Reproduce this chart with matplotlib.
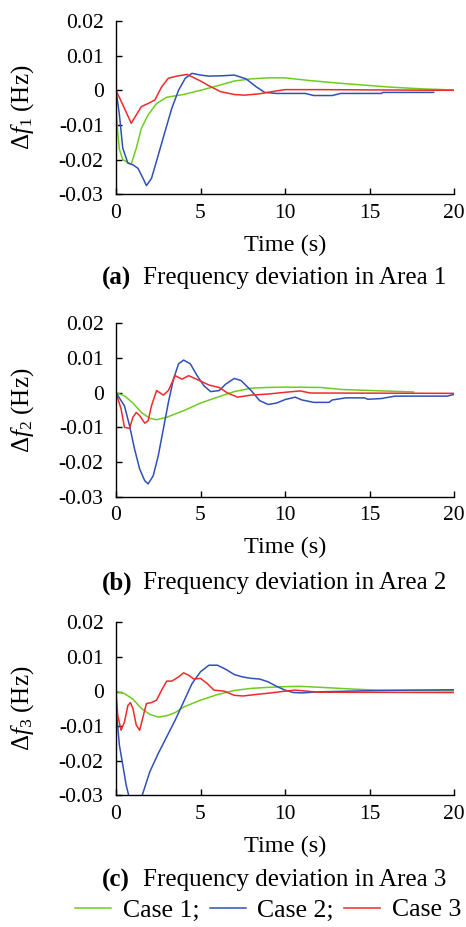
import matplotlib
matplotlib.use('Agg')
import matplotlib.pyplot as plt
from matplotlib.lines import Line2D

# ---- data (time in s, deviation in Hz) ----
# Area 1
t_a_case1 = [0, 0.1, 0.2, 0.4, 0.9, 1.2, 1.5, 1.9, 2.4, 3.0, 4.0, 5.0, 6.0, 7.0, 8.0, 9.0, 10.0,
             11.5, 13.1, 14.7, 16.3, 18.2, 20.0]
v_a_case1 = [-0.005, -0.012, -0.017, -0.020, -0.0213, -0.0167, -0.011, -0.0071, -0.0038, -0.002,
             -0.0012, 0.0, 0.0013, 0.0027, 0.0033, 0.0036, 0.0036,
             0.0028, 0.0021, 0.0015, 0.0009, 0.0004, 0.0001]
t_a_case2 = [0, 0.2, 0.4, 0.7, 1.0, 1.3, 1.6, 1.8, 2.1, 2.5, 2.9, 3.3, 3.7, 4.1, 4.5, 5.0, 5.5,
             6.3, 7.0, 7.7, 8.3, 8.8, 9.5, 10.0, 11.2, 11.7, 12.8, 13.3, 15.7, 15.8, 18.8]
v_a_case2 = [0.0, -0.007, -0.0167, -0.021, -0.0215, -0.0225, -0.0254, -0.0275, -0.0254, -0.0187,
             -0.0119, -0.0052, 0.0, 0.0035, 0.0049, 0.0044, 0.0041,
             0.0042, 0.0044, 0.0033, 0.001, -0.0006, -0.0009, -0.0009, -0.0009, -0.0015, -0.0015,
             -0.0009, -0.0009, -0.0006, -0.0006]
t_a_case3 = [0, 0.5, 0.9, 1.2, 1.5, 1.9, 2.3, 2.7, 3.1, 3.6, 4.2, 5.0, 5.5, 6.2, 7.0, 7.6, 8.5,
             9.2, 10.0, 12.0, 20.0]
v_a_case3 = [0.0, -0.0052, -0.0095, -0.0071, -0.0047, -0.0038, -0.0028, 0.001, 0.0035, 0.0041,
             0.0046, 0.0027, 0.0013, -0.0004, -0.0012, -0.0014, -0.001,
             -0.0004, 0.0002, 0.0002, 0.0]

# Area 2
t_b_case1 = [0, 0.5, 1.0, 1.5, 2.0, 2.4, 3.0, 4.0, 5.0, 6.0, 7.0, 8.0, 9.0, 10.0, 12.1, 13.4,
             15.8, 17.6]
v_b_case1 = [0.0, -0.0009, -0.003, -0.0057, -0.0074, -0.0078, -0.0071, -0.0052, -0.003, -0.0013,
             0.0003, 0.0013, 0.0015, 0.0016, 0.0015, 0.0009, 0.0005, 0.0002]
t_b_case2 = [0, 0.5, 0.8, 1.1, 1.4, 1.7, 1.9, 2.2, 2.5, 2.8, 3.1, 3.4, 3.7, 4.0, 4.4, 4.8, 5.2,
             5.6, 6.1, 6.5, 7.0, 7.4, 8.0, 8.5, 9.0, 9.5, 10.0, 10.6, 11.0, 11.7, 12.6, 12.8,
             13.6, 14.7, 14.9, 15.7, 16.5, 19.6, 20.0]
v_b_case2 = [0.0, -0.0038, -0.0095, -0.0163, -0.022, -0.0254, -0.0263, -0.024, -0.0182, -0.0105,
             -0.0028, 0.0039, 0.0083, 0.0094, 0.0083, 0.0049, 0.002,
             0.0003, 0.0006, 0.0025, 0.0041, 0.0035, 0.0006, -0.0023, -0.0034, -0.003, -0.002,
             -0.0013, -0.0021, -0.0028, -0.0028, -0.0021, -0.0015, -0.0015, -0.0019, -0.0017,
             -0.001, -0.001, -0.0005]
t_b_case3 = [0, 0.3, 0.5, 0.8, 1.0, 1.2, 1.4, 1.7, 1.9, 2.1, 2.4, 2.8, 3.1, 3.5, 3.9, 4.3, 4.8,
             5.5, 6.1, 6.6, 7.2, 8.0, 9.0, 10.0, 10.9, 11.5, 20.0]
v_b_case3 = [0.0, -0.0047, -0.01, -0.0103, -0.0071, -0.0057, -0.0066, -0.0088, -0.0081, -0.0038,
             0.0006, -0.0007, 0.0006, 0.0049, 0.0039, 0.0049, 0.0038,
             0.0022, 0.0015, -0.0001, -0.0013, -0.0007, -0.0004, 0.0001, 0.0005, -0.0001, -0.0002]

# Area 3
t_c_case1 = [0, 0.5, 1.0, 1.5, 2.0, 2.5, 3.0, 3.5, 4.0, 5.0, 6.0, 7.0, 8.0, 9.0, 10.0, 10.9,
             12.5, 14.0, 15.5, 17.5, 20.0]
v_c_case1 = [0.0, -0.0006, -0.0022, -0.0049, -0.0066, -0.0074, -0.007, -0.0061, -0.0045, -0.0025,
             -0.0009, 0.0003, 0.0009, 0.0012, 0.0014, 0.0015, 0.0011, 0.0007, 0.0004, 0.0003,
             0.0002]
t_c_case2 = [0, 0.1, 0.2, 0.4, 0.6, 0.75, 1.1, 1.55, 2.0, 2.5, 3.0, 3.5, 4.0, 4.5, 5.0, 5.5, 6.0,
             6.5, 7.0, 7.5, 8.0, 8.5, 9.0, 9.5, 10.0, 10.5, 11.0, 12.0, 14.7, 17.5, 20.0]
v_c_case2 = [-0.005, -0.01, -0.0155, -0.0212, -0.027, -0.030, -0.034, -0.030, -0.0232, -0.0179,
             -0.0131, -0.0083, -0.003, 0.0023, 0.0057, 0.0076, 0.0076,
             0.0064, 0.0049, 0.0042, 0.0038, 0.0036, 0.0028, 0.0015, 0.0004, -0.0003, -0.0004,
             -0.0001, 0.0002, 0.0004, 0.0005]
t_c_case3 = [0, 0.1, 0.3, 0.5, 0.7, 0.85, 1.0, 1.2, 1.4, 1.6, 1.8, 2.1, 2.4, 2.7, 3.0, 3.3, 3.7,
             4.0, 4.3, 4.6, 5.0, 5.4, 5.8, 6.4, 7.0, 7.5, 8.2, 9.0, 10.0, 10.6, 12.0, 20.0]
v_c_case3 = [0.0, -0.0068, -0.0112, -0.0088, -0.0041, -0.0032, -0.0049, -0.0097, -0.0112, -0.0073,
             -0.0035, -0.0032, -0.0025, 0.0004, 0.003, 0.003, 0.0042,
             0.0054, 0.0047, 0.0036, 0.0038, 0.0023, 0.0004, 0.0001, -0.0011, -0.0013, -0.0009,
             -0.0005, 0.0001, 0.0004, -0.0002, -0.0003]

letters = ['(a)', '(b)', '(c)']
captions = ['Frequency deviation in Area 1', 'Frequency deviation in Area 2',
            'Frequency deviation in Area 3']
ylabels = [r'$\Delta f_1$ (Hz)', r'$\Delta f_2$ (Hz)', r'$\Delta f_3$ (Hz)']
case_labels = ['Case 1;', 'Case 2;', 'Case 3']
xticks = [0, 5, 10, 15, 20]
yticks = [0.02, 0.01, 0.0, -0.01, -0.02, -0.03]
ytick_labels = ['0.02', '0.01', '0', '-0.01', '-0.02', '-0.03']

GREEN = '#6fcc1f'
BLUE = '#3050b8'
RED = '#ee2b2b'
colors = [GREEN, BLUE, RED]

plt.rcParams['font.family'] = ['Liberation Serif', 'DejaVu Serif']
plt.rcParams['mathtext.fontset'] = 'custom'
plt.rcParams['mathtext.rm'] = 'Liberation Serif'
plt.rcParams['mathtext.it'] = 'Liberation Serif:italic'
plt.rcParams['axes.unicode_minus'] = False

W, H = 466, 927
fig = plt.figure(figsize=(W / 100, H / 100), dpi=100)

panels = [
    [(t_a_case1, v_a_case1), (t_a_case2, v_a_case2), (t_a_case3, v_a_case3)],
    [(t_b_case1, v_b_case1), (t_b_case2, v_b_case2), (t_b_case3, v_b_case3)],
    [(t_c_case1, v_c_case1), (t_c_case2, v_c_case2), (t_c_case3, v_c_case3)],
]
# axes boxes in pixels: top, bottom
boxes = [(21, 194.3), (323.3, 496.7), (622.3, 795.3)]
caption_y = [278, 583, 880]
left_px, right_px = 116, 454

for i, series in enumerate(panels):
    top, bot = boxes[i]
    ax = fig.add_axes([left_px / W, 1 - bot / H, (right_px - left_px) / W, (bot - top) / H])
    for (t, v), c in zip(series, colors):
        ax.plot(t, v, color=c, lw=1.1)
    ax.set_xlim(0, 20)
    ax.set_ylim(-0.03, 0.02)
    ax.set_xticks(xticks)
    ax.set_yticks(yticks)
    ax.set_yticklabels(ytick_labels)
    ax.spines['top'].set_visible(False)
    ax.spines['right'].set_visible(False)
    for s in ('left', 'bottom'):
        ax.spines[s].set_linewidth(1.0)
    ax.tick_params(direction='in', length=4, width=1.0, labelsize=15.5)
    ax.tick_params(axis='y', pad=9)
    ax.tick_params(axis='x', pad=7)
    ax.set_xlabel('Time (s)', fontsize=17.5)
    ax.xaxis.label.set_verticalalignment('center')
    ax.xaxis.set_label_coords(0.5, -(245 - 194.3) / (bot - top))
    ax.set_ylabel(ylabels[i], fontsize=18)
    ax.yaxis.label.set_verticalalignment('center')
    ax.yaxis.set_label_coords(-(116 - 23) / (right_px - left_px), 0.5)

    yc = 1 - caption_y[i] / H
    fig.text(102 / W, yc, letters[i], fontsize=18, fontweight='bold', ha='left', va='center')
    fig.text(143 / W, yc, captions[i], fontsize=18, ha='left', va='center')

handles = [Line2D([], [], color=c, lw=1.1) for c in colors]
fig.legend(handles, case_labels, loc='center', bbox_to_anchor=(268 / W, 1 - 910 / H), ncol=3,
           frameon=False, fontsize=18.5, handlelength=1.4, handletextpad=0.45,
           columnspacing=0.4, borderpad=0, borderaxespad=0)

fig.savefig('out.png', dpi=100)
